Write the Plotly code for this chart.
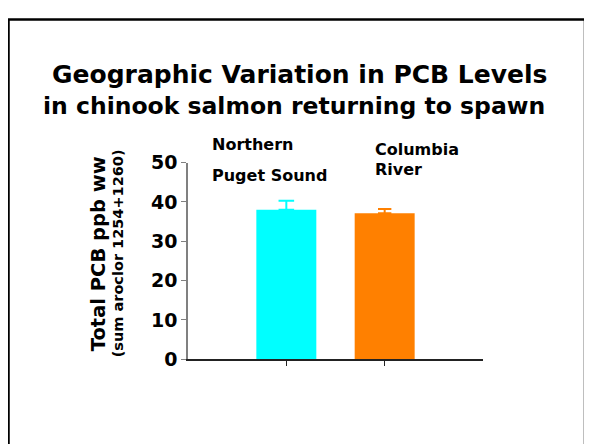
import plotly.graph_objects as go

W, H = 592, 444
OFF = 8  # page body margin: page pixel = figure pixel + 8

categories = ["Northern Puget Sound", "Columbia River"]
pcb_values = [38.0, 37.1]
pcb_err_plus = [2.3, 1.1]
bar_colors = ["#00FFFF", "#FF8000"]
y_ticks = [0, 10, 20, 30, 40, 50]

title_lines = ["Geographic Variation in PCB Levels", "in chinook salmon returning to spawn"]
y_title = "Total PCB ppb ww"
y_subtitle = "(sum aroclor 1254+1260)"
bar_labels = [["Northern", "Puget Sound"], ["Columbia", "River"]]


def px(x):
    return (x - OFF) / W


def py(y):
    return 1 - (y - OFF) / H


FONT = "DejaVu Sans, Liberation Sans, Arial, sans-serif"

fig = go.Figure()
cap_half = [7.8, 6.7]
for i, cat in enumerate(categories):
    fig.add_trace(go.Bar(
        x=[cat], y=[pcb_values[i]],
        marker=dict(color=bar_colors[i], line=dict(width=0)),
        width=0.61,
        error_y=dict(type="data", array=[pcb_err_plus[i]], arrayminus=[0],
                     symmetric=False, color=bar_colors[i], thickness=2, width=cap_half[i]),
        showlegend=False,
    ))

annotations = []
annotations.append(dict(text="<b>%s</b>" % title_lines[0], x=px(299), y=py(66),
                        xref="paper", yref="paper", showarrow=False,
                        xanchor="center", yanchor="middle",
                        font=dict(family=FONT, size=25, color="black")))
annotations.append(dict(text="<b>%s</b>" % title_lines[1], x=px(294), y=py(100),
                        xref="paper", yref="paper", showarrow=False,
                        xanchor="center", yanchor="middle",
                        font=dict(family=FONT, size=23.5, color="black")))
annotations.append(dict(text="<b>%s</b>" % y_title, x=px(98.5), y=py(255),
                        xref="paper", yref="paper", showarrow=False, textangle=-90,
                        xanchor="center", yanchor="middle",
                        font=dict(family=FONT, size=19.5, color="black")))
annotations.append(dict(text="<b>%s</b>" % y_subtitle, x=px(117.5), y=py(255),
                        xref="paper", yref="paper", showarrow=False, textangle=-90,
                        xanchor="center", yanchor="middle",
                        font=dict(family=FONT, size=14.5, color="black")))
label_pos = [[(210, 140), (210, 173)], [(373, 145), (373, 166)]]
for lbls, poss in zip(bar_labels, label_pos):
    for t, (lx, ly) in zip(lbls, poss):
        annotations.append(dict(text="<b>%s</b>" % t, x=px(lx), y=py(ly),
                                xref="paper", yref="paper", showarrow=False,
                                xanchor="left", yanchor="middle",
                                font=dict(family=FONT, size=16, color="black")))

# slide frame
shapes = [dict(type="path", xref="paper", yref="paper",
               path="M %f %f L %f %f L %f %f L %f %f" % (
                   px(8.5), py(470), px(8.5), py(8.5), px(585), py(8.5), px(585), py(470)),
               line=dict(color="black", width=2.5))]

fig.update_layout(
    width=W, height=H,
    margin=dict(l=0, r=0, t=0, b=0),
    paper_bgcolor="white", plot_bgcolor="white",
    annotations=annotations, shapes=shapes,
    xaxis=dict(domain=[px(188), px(483)], type="category", range=[-1, 2],
               showticklabels=False, showgrid=False, zeroline=False,
               showline=True, linecolor="#222222", linewidth=1.5,
               ticks="outside", ticklen=5, tickcolor="#222222", tickwidth=1),
    yaxis=dict(domain=[py(366), py(159)], range=[0, 50], tickvals=y_ticks,
               showgrid=False, zeroline=False,
               showline=True, linecolor="#808080", linewidth=1.5,
               ticks="outside", ticklen=5, tickcolor="#808080", tickwidth=1,
               tickfont=dict(family=FONT, size=19, color="black", weight="bold")),
)

fig.write_html("out.html")
